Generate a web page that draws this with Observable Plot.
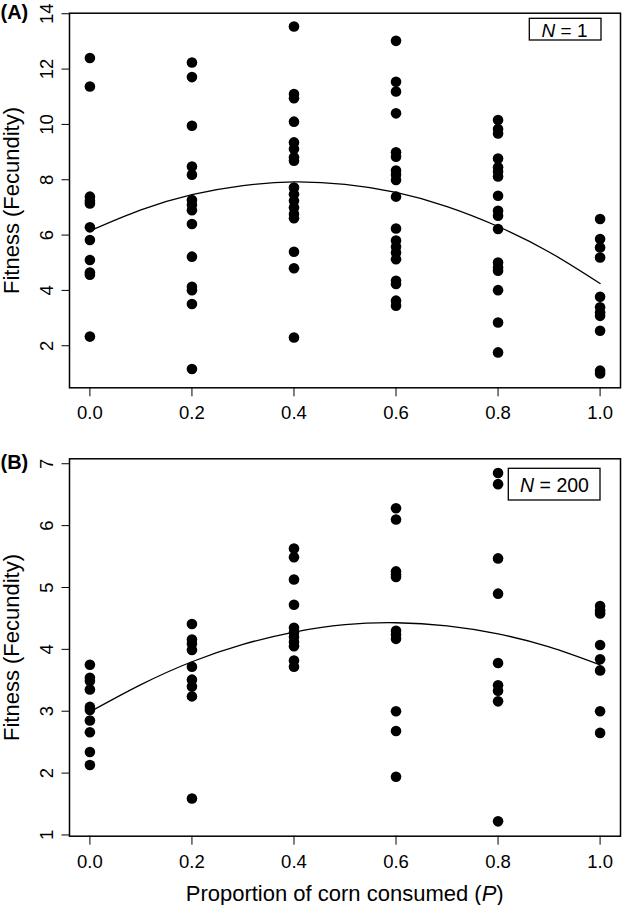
<!DOCTYPE html>
<html><head><meta charset="utf-8">
<script src="https://cdn.jsdelivr.net/npm/d3@7"></script>
<script src="https://cdn.jsdelivr.net/npm/@observablehq/plot@0.6"></script>
<style>
html,body{margin:0;padding:0;background:#fff;}
#chart{width:625px;}
#chart svg{display:block;}
</style></head><body><div id="chart"></div>
<script>
// ---- Data ----
const xTicks = [0, 0.2, 0.4, 0.6, 0.8, 1.0];
const yTicksA = [2, 4, 6, 8, 10, 12, 14];
const yTicksB = [1, 2, 3, 4, 5, 6, 7];

// Panel A (N = 1): fitness values at each proportion P
const a00 = [12.40, 11.37, 7.39, 7.24, 7.14, 6.28, 5.82, 5.10, 4.65, 4.57, 2.33];
const a02 = [12.24, 11.71, 9.95, 8.48, 8.18, 7.27, 7.10, 6.90, 6.40, 5.22, 4.13, 4.01, 3.51, 1.16];
const a04 = [13.54, 11.10, 10.95, 10.10, 9.35, 9.11, 8.81, 8.69, 7.72, 7.48, 7.24, 7.00, 6.76, 6.61, 5.40, 4.80, 2.30];
const a06 = [13.02, 11.54, 11.19, 10.40, 8.99, 8.83, 8.33, 8.18, 7.99, 7.39, 6.24, 5.80, 5.58, 5.37, 5.13, 4.35, 4.23, 3.63, 3.45];
const a08 = [10.16, 9.83, 9.67, 8.77, 8.45, 8.30, 8.12, 7.42, 6.88, 6.70, 6.22, 5.01, 4.83, 4.71, 4.01, 2.84, 1.76];
const a10 = [6.58, 5.86, 5.55, 5.19, 3.77, 3.39, 3.20, 3.08, 2.54, 1.10, 1.00];

// Panel B (N = 200)
const b00 = [3.75, 3.54, 3.49, 3.35, 3.07, 3.02, 2.85, 2.66, 2.34, 2.13];
const b02 = [4.41, 4.16, 4.09, 3.99, 3.72, 3.51, 3.40, 3.24, 1.59];
const b04 = [5.63, 5.49, 5.13, 4.72, 4.35, 4.27, 4.20, 4.12, 4.05, 3.82, 3.72];
const b06 = [6.28, 6.10, 5.26, 5.21, 5.17, 4.30, 4.24, 4.17, 3.00, 2.68, 1.94];
const b08 = [6.85, 6.67, 5.47, 4.90, 3.78, 3.42, 3.33, 3.16, 1.22];
const b10 = [4.70, 4.63, 4.58, 4.07, 3.84, 3.66, 3.00, 2.65];

// Fitted quadratic curves, read at these P values
const curveP = [0, 0.1, 0.2, 0.3, 0.4, 0.5, 0.6, 0.7, 0.8, 0.9, 1.0];
const curveA = [6.15, 6.91, 7.46, 7.79, 7.92, 7.83, 7.54, 7.03, 6.31, 5.39, 4.25];
const curveB = [2.99, 3.43, 3.80, 4.08, 4.28, 4.40, 4.43, 4.38, 4.25, 4.04, 3.75];

// ---- Build tables ----
const FONT = '"Liberation Sans", Arial, Helvetica, sans-serif';
function table(groups) {
  const rows = [];
  groups.forEach((vals, i) => vals.forEach(f => rows.push({p: xTicks[i], f})));
  return rows;
}
const dataA = table([a00, a02, a04, a06, a08, a10]);
const dataB = table([b00, b02, b04, b06, b08, b10]);
const lineA = curveP.map((p, i) => ({p, f: curveA[i]}));
const lineB = curveP.map((p, i) => ({p, f: curveB[i]}));

function panel({data, curve, yDomain, yTicks, height, marginTop, marginBottom}) {
  return Plot.plot({
    width: 625, height, marginTop, marginBottom, marginLeft: 69, marginRight: 5,
    style: {fontFamily: FONT, fontSize: "18.5px", color: "black", background: "white", overflow: "visible"},
    x: {domain: [-0.04, 1.04]},
    y: {domain: yDomain},
    marks: [
      Plot.frame({stroke: "black", strokeWidth: 1.5}),
      Plot.axisX({ticks: xTicks, tickSize: 9, tickPadding: 9.5, tickFormat: d3.format(".1f"), label: null}),
      Plot.axisY({ticks: yTicks, tickSize: 7.5, tickPadding: 9, tickRotate: -90, tickFormat: d3.format("d"), label: null}),
      Plot.text(["Fitness (Fecundity)"], {text: d => d, frameAnchor: "left", rotate: -90, dx: -58, fontSize: 22, textAnchor: "middle", lineAnchor: "middle"}),
      Plot.line(curve, {x: "p", y: "f", curve: "natural", stroke: "black", strokeWidth: 1.3}),
      Plot.dot(data, {x: "p", y: "f", r: 5.3, fill: "black", stroke: null})
    ]
  });
}

const svgA = panel({data: dataA, curve: lineA, yDomain: [0.48, 14.02], yTicks: yTicksA, height: 440, marginTop: 12.7, marginBottom: 52.7});
const svgB = panel({data: dataB, curve: lineB, yDomain: [0.98, 7.08], yTicks: yTicksB, height: 465, marginTop: 18.3, marginBottom: 69.3});

function decorate(svg, {label, labelY, box, legendText, textX, textY, fs}) {
  const s = d3.select(svg);
  s.append("text").attr("x", 0.5).attr("y", labelY).attr("text-anchor", "start")
    .attr("font-family", FONT).attr("font-size", 20).attr("font-weight", "bold").text(label);
  s.append("rect").attr("x", box[0]).attr("y", box[1]).attr("width", box[2]).attr("height", box[3])
    .attr("fill", "white").attr("stroke", "black").attr("stroke-width", 1.3);
  const t = s.append("text").attr("x", textX).attr("y", textY).attr("text-anchor", "middle")
    .attr("font-family", FONT).attr("font-size", fs);
  t.append("tspan").attr("font-style", "italic").text("N");
  t.append("tspan").text(" = " + legendText);
}
decorate(svgA, {label: "(A)", labelY: 18.5, box: [529.3, 18.3, 71.7, 21.7], legendText: "1", textX: 564.5, textY: 36.7, fs: 19});
decorate(svgB, {label: "(B)", labelY: 29.3, box: [508.3, 28.3, 91.7, 31.7], legendText: "200", textX: 554.5, textY: 52.3, fs: 19.5});

// x-axis title on panel B
const xt = d3.select(svgB).append("text").attr("x", 344.7).attr("y", 460.5).attr("text-anchor", "middle")
  .attr("font-family", FONT).attr("font-size", 22);
xt.append("tspan").text("Proportion of corn consumed (");
xt.append("tspan").attr("font-style", "italic").text("P");
xt.append("tspan").text(")");

document.getElementById("chart").append(svgA, svgB);
</script>
</body></html>
